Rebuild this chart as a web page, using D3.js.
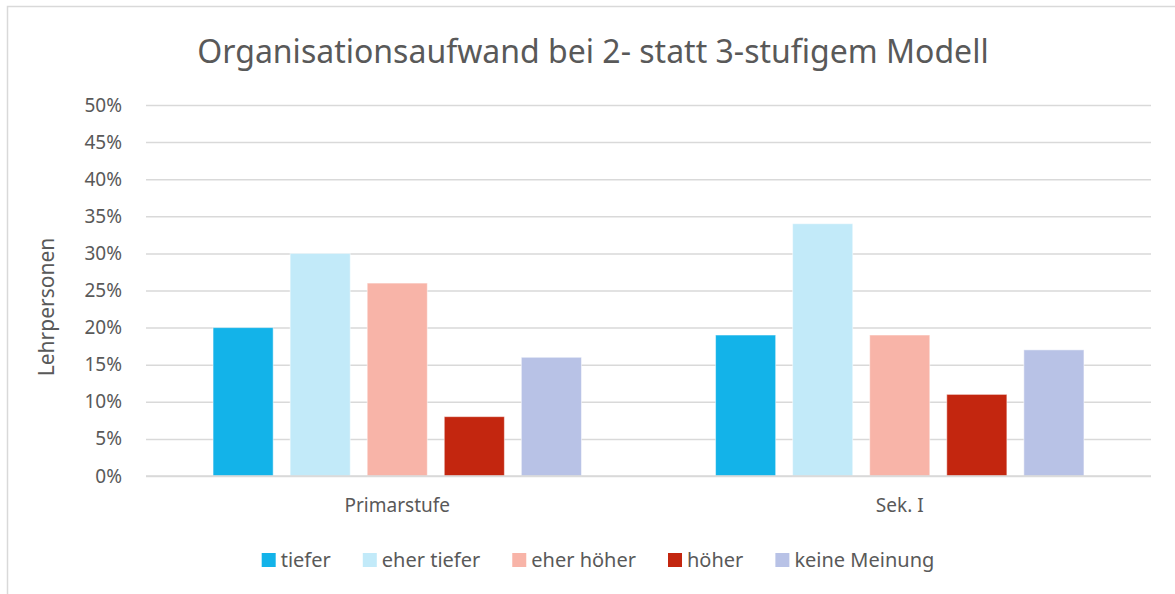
<!DOCTYPE html>
<html>
<head>
<meta charset="utf-8">
<script src="https://cdn.jsdelivr.net/npm/d3@7"></script>
<style>
  body { margin: 0; background: #fff; }
  svg { display: block; font-family: "Noto Sans", "Open Sans", sans-serif; }
</style>
</head>
<body>
<div id="my_dataviz"></div>
<script>
// data
var groups = ["Primarstufe", "Sek. I"];
var series = ["tiefer", "eher tiefer", "eher höher", "höher", "keine Meinung"];
var primarValues = [20, 30, 26, 8, 16];
var sekValues = [19, 34, 19, 11, 17];
var yTicks = [0, 5, 10, 15, 20, 25, 30, 35, 40, 45, 50];
var colors = ["#13B3E9", "#C2EAF9", "#F8B4A8", "#C3260F", "#B8C2E6"];

var totalWidth = 1175, totalHeight = 594;
var margin = {top: 105, right: 24, bottom: 118, left: 146},
    width = totalWidth - margin.left - margin.right,
    height = totalHeight - margin.top - margin.bottom;

var textColor = "#595959";

var root = d3.select("#my_dataviz")
  .append("svg")
    .attr("width", totalWidth)
    .attr("height", totalHeight);

// chart frame
root.append("rect")
  .attr("x", 7.5).attr("y", 6.5)
  .attr("width", 1200).attr("height", 620)
  .attr("fill", "#fff")
  .attr("stroke", "#D9D9D9")
  .attr("stroke-width", 1.5);

// title
root.append("text")
  .attr("x", 593)
  .attr("y", 63)
  .attr("text-anchor", "middle")
  .attr("fill", textColor)
  .style("font-size", "32px")
  .text("Organisationsaufwand bei 2- statt 3-stufigem Modell");

var svg = root.append("g")
  .attr("transform", "translate(" + margin.left + "," + margin.top + ")");

var y = d3.scaleLinear()
  .domain([0, 50])
  .range([height, 0]);

var x0 = d3.scaleBand()
  .domain(groups)
  .range([0, width])
  .padding(0);

var x1 = d3.scaleBand()
  .domain(series)
  .range([0, x0.bandwidth()])
  .paddingInner(0.22)
  .paddingOuter(0.87);

// y axis + gridlines
var yAxis = svg.append("g")
  .call(d3.axisLeft(y)
    .tickValues(yTicks)
    .tickSize(-width)
    .tickPadding(24)
    .tickFormat(function (d) { return d + "%"; }));
yAxis.select(".domain").remove();
yAxis.selectAll("line")
  .attr("stroke", "#D9D9D9")
  .attr("stroke-width", 1.5);
yAxis.selectAll("text")
  .attr("fill", textColor)
  .style("font-size", "19px")
  .style("font-family", "Noto Sans");

// bars
var tableData = groups.map(function (g, i) {
  var vals = i === 0 ? primarValues : sekValues;
  return {group: g, values: series.map(function (s, j) { return {key: s, value: vals[j], color: colors[j]}; })};
});

svg.append("g")
  .selectAll("g")
  .data(tableData)
  .enter()
  .append("g")
    .attr("transform", function (d) { return "translate(" + x0(d.group) + ",0)"; })
  .selectAll("rect")
  .data(function (d) { return d.values; })
  .enter()
  .append("rect")
    .attr("x", function (d) { return x1(d.key); })
    .attr("y", function (d) { return y(d.value); })
    .attr("width", x1.bandwidth())
    .attr("height", function (d) { return height - y(d.value); })
    .attr("fill", function (d) { return d.color; })
    .attr("stroke", "#fff")
    .attr("stroke-opacity", 0.5)
    .attr("stroke-width", 1);

// x axis line (0% gridline drawn on top)
svg.append("line")
  .attr("x1", 0).attr("x2", width)
  .attr("y1", height).attr("y2", height)
  .attr("stroke", "#D9D9D9")
  .attr("stroke-width", 1.5);

var xAxis = svg.append("g")
  .attr("transform", "translate(0," + height + ")")
  .call(d3.axisBottom(x0).tickSize(0).tickPadding(23));
xAxis.select(".domain").remove();
xAxis.selectAll("text")
  .attr("fill", textColor)
  .style("font-size", "19px")
  .style("font-family", "Noto Sans");

// y label
root.append("text")
  .attr("transform", "translate(54,307) rotate(-90)")
  .attr("text-anchor", "middle")
  .attr("fill", textColor)
  .style("font-size", "21px")
  .text("Lehrpersonen");

// legend
var legend = root.append("g");
var items = legend.selectAll("g")
  .data(series)
  .enter()
  .append("g");
items.append("rect")
  .attr("width", 14).attr("height", 14)
  .attr("y", 553)
  .attr("fill", function (d, i) { return colors[i]; });
items.append("text")
  .attr("x", 19)
  .attr("y", 567)
  .attr("fill", textColor)
  .style("font-size", "20px")
  .text(function (d) { return d; });

var gap = 32;
var pos = 0, positions = [];
items.each(function () {
  var w = 19 + d3.select(this).select("text").node().getComputedTextLength();
  positions.push(pos);
  pos += w + gap;
});
var legendWidth = pos - gap;
var legendStart = 598 - legendWidth / 2;
items.attr("transform", function (d, i) { return "translate(" + (legendStart + positions[i]) + ",0)"; });
</script>
</body>
</html>
